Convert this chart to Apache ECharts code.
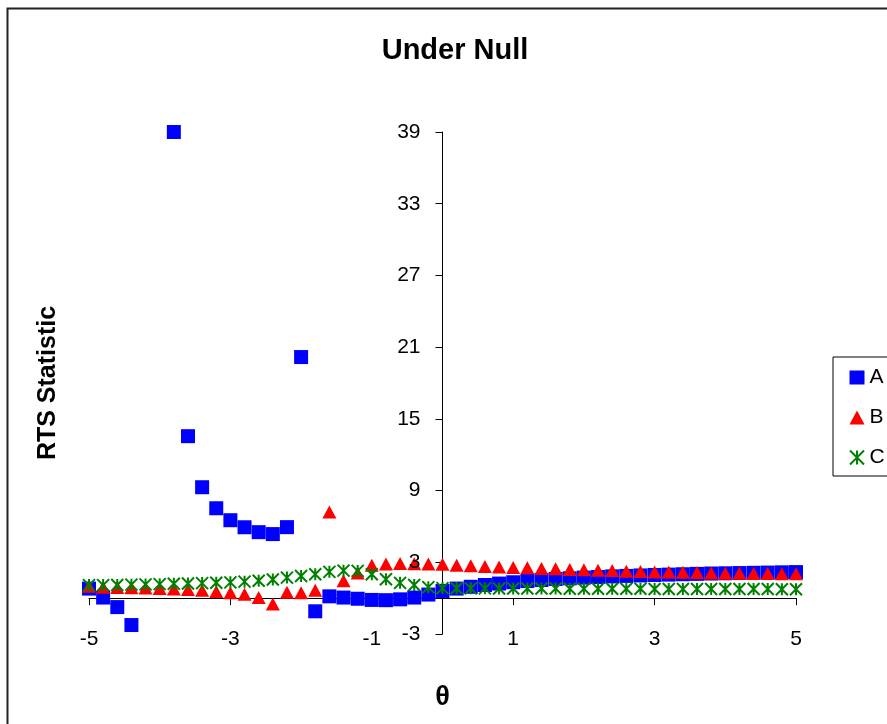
<!DOCTYPE html>
<html>
<head>
<meta charset="utf-8">
<script src="https://cdn.jsdelivr.net/npm/echarts@6/dist/echarts.min.js"></script>
<style>
html,body{margin:0;padding:0;background:#fff;}
#chart{width:887px;height:724px;}
</style>
</head>
<body>
<div id="chart"></div>
<script>
// theta values (x)
var theta = [-5.0,-4.8,-4.6,-4.4,-4.2,-4.0,-3.8,-3.6,-3.4,-3.2,-3.0,-2.8,-2.6,-2.4,-2.2,-2.0,-1.8,-1.6,-1.4,-1.2,-1.0,-0.8,-0.6,-0.4,-0.2,0.0,0.2,0.4,0.6,0.8,1.0,1.2,1.4,1.6,1.8,2.0,2.2,2.4,2.6,2.8,3.0,3.2,3.4,3.6,3.8,4.0,4.2,4.4,4.6,4.8,5.0];
// Series A (blue squares)
var seriesA = [0.8,0.05,-0.75,-2.25,null,null,39.0,13.55,9.28,7.52,6.52,5.93,5.52,5.36,5.94,20.17,-1.1,0.15,0.05,-0.05,-0.15,-0.17,-0.1,0.05,0.3,0.6,0.8,0.95,1.1,1.22,1.33,1.43,1.52,1.6,1.66,1.72,1.77,1.82,1.86,1.9,1.94,1.97,2.0,2.03,2.06,2.08,2.1,2.12,2.14,2.16,2.18];
// Series B (red triangles)
var seriesB = [1.0,0.92,0.9,0.87,0.84,0.8,0.77,0.72,0.66,0.55,0.45,0.33,0.05,-0.5,0.5,0.45,0.65,7.2,1.45,2.1,2.75,2.85,2.9,2.88,2.85,2.83,2.76,2.7,2.65,2.6,2.57,2.54,2.49,2.45,2.39,2.37,2.34,2.32,2.26,2.23,2.19,2.18,2.16,2.14,2.11,2.09,2.08,2.06,2.06,2.05,2.05];
// Series C (green asterisks)
var seriesC = [1.09,1.09,1.1,1.13,1.15,1.17,1.2,1.23,1.26,1.29,1.32,1.38,1.46,1.56,1.72,1.85,2.0,2.2,2.3,2.28,2.0,1.58,1.28,1.1,0.92,0.84,0.83,0.82,0.82,0.81,0.81,0.8,0.8,0.8,0.79,0.79,0.79,0.78,0.78,0.78,0.77,0.77,0.77,0.77,0.76,0.76,0.76,0.76,0.76,0.75,0.75];
var seriesNames = ['A','B','C'];
var xTicks = {min:-5, max:5, interval:2};
var yTicks = {min:-3, max:39, interval:6};

function pairs(ys){
  var out = [];
  for (var i=0;i<theta.length;i++){ if (ys[i] !== null) out.push([theta[i], ys[i]]); }
  return out;
}

var FONT = '"Liberation Sans", Arial, sans-serif';
var chart = echarts.init(document.getElementById('chart'), null, {renderer:'canvas'});
var asterisk = 'path://M0,0L10,10M10,0L0,10M5,0L5,10';

var gridLeft = 89, gridRight = 91;
var plotW = 887 - gridLeft - gridRight;
// shift y axis so that it sits where x = 0
var yAxisShift = -plotW * (0 - xTicks.min) / (xTicks.max - xTicks.min);

chart.setOption({
  animation:false,
  backgroundColor:'#fff',
  textStyle:{fontFamily:FONT},
  title:{
    text:'Under Null',
    left:450, top:31, textAlign:'center',
    textStyle:{fontFamily:FONT, fontWeight:'bold', fontSize:29, color:'#000'}
  },
  legend:{
    orient:'vertical',
    left:833, top:357,
    data:seriesNames,
    itemWidth:15, itemHeight:14, itemGap:19,
    padding:[10,30,8,16],
    borderColor:'#000', borderWidth:1,
    textStyle:{fontFamily:FONT, fontSize:21, color:'#000'}
  },
  graphic:[{
    type:'rect', left:5, top:6, z:-1, silent:true,
    shape:{width:1000, height:1000},
    style:{fill:'none', stroke:'#222', lineWidth:2}
  }],
  grid:{left:gridLeft, right:gridRight, top:132, bottom:90, containLabel:false, outerBoundsMode:'none'},
  xAxis:[{
    type:'value', min:xTicks.min, max:xTicks.max, interval:xTicks.interval,
    axisLine:{onZero:true, lineStyle:{color:'#000', width:1}},
    axisTick:{show:true, length:7, lineStyle:{color:'#000'}},
    axisLabel:{show:false},
    splitLine:{show:false}
  },{
    type:'value', min:xTicks.min, max:xTicks.max, interval:xTicks.interval,
    position:'bottom',
    axisLine:{show:false, onZero:false},
    axisTick:{show:false},
    axisLabel:{show:true, margin:-5, fontFamily:FONT, fontSize:21, color:'#000'},
    splitLine:{show:false},
    name:'θ', nameLocation:'middle', nameGap:50,
    nameTextStyle:{fontFamily:FONT, fontWeight:'bold', fontSize:27, color:'#000'}
  }],
  yAxis:[{
    type:'value', min:yTicks.min, max:yTicks.max, interval:yTicks.interval,
    position:'left', offset:yAxisShift,
    axisLine:{onZero:false, lineStyle:{color:'#000', width:1}},
    axisTick:{show:true, length:7, lineStyle:{color:'#000'}},
    axisLabel:{show:false},
    splitLine:{show:false}
  },{
    type:'value', min:yTicks.min, max:yTicks.max, interval:yTicks.interval,
    position:'left', offset:yAxisShift, z:10,
    axisLine:{show:false, onZero:false},
    axisTick:{show:false},
    axisLabel:{margin:22, fontFamily:FONT, fontSize:21, color:'#000'},
    splitLine:{show:false},
    name:'RTS Statistic', nameLocation:'middle', nameGap:382, nameRotate:90,
    nameTextStyle:{fontFamily:FONT, fontWeight:'bold', fontSize:25, color:'#000'}
  }],
  series:[{
    name:'A', type:'scatter', xAxisIndex:0, yAxisIndex:0,
    symbol:'rect', symbolSize:14,
    itemStyle:{color:'#0000FF', opacity:1},
    data:pairs(seriesA)
  },{
    name:'B', type:'scatter', xAxisIndex:0, yAxisIndex:0,
    symbol:'triangle', symbolSize:[14,13],
    itemStyle:{color:'#FF0000', opacity:1},
    data:pairs(seriesB)
  },{
    name:'C', type:'scatter', xAxisIndex:0, yAxisIndex:0,
    symbol:asterisk, symbolSize:12,
    itemStyle:{color:'#008000', borderColor:'#008000', borderWidth:2, opacity:1},
    data:pairs(seriesC)
  }]
});
</script>
</body>
</html>
